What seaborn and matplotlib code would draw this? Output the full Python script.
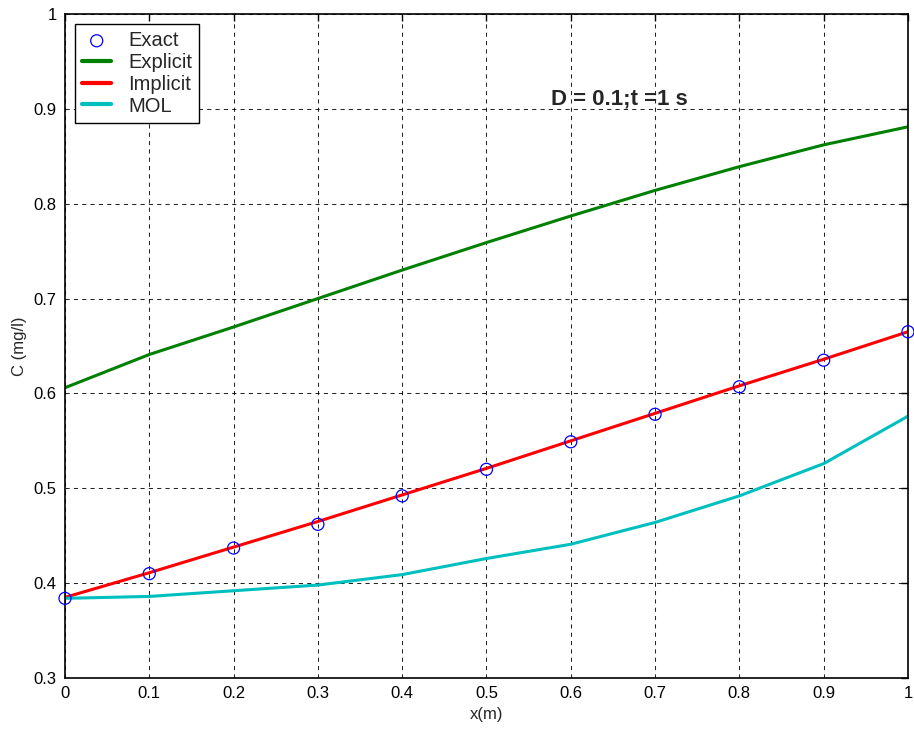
import numpy as np
import pandas as pd
import seaborn as sns
import matplotlib.pyplot as plt

# data
x = [0, 0.1, 0.2, 0.3, 0.4, 0.5, 0.6, 0.7, 0.8, 0.9, 1.0]
exact = [0.384, 0.410, 0.437, 0.462, 0.492, 0.520, 0.549, 0.578, 0.607, 0.635, 0.665]
explicit = [0.606, 0.641, 0.670, 0.700, 0.730, 0.759, 0.787, 0.814, 0.839, 0.862, 0.881]
implicit = [0.385, 0.411, 0.438, 0.465, 0.493, 0.521, 0.550, 0.579, 0.608, 0.636, 0.665]
mol = [0.384, 0.386, 0.392, 0.398, 0.409, 0.426, 0.441, 0.464, 0.492, 0.526, 0.576]
xticklabels = ['0', '0.1', '0.2', '0.3', '0.4', '0.5', '0.6', '0.7', '0.8', '0.9', '1']
yticklabels = ['0.3', '0.4', '0.5', '0.6', '0.7', '0.8', '0.9', '1']

sns.set_style('white')
plt.rcParams['font.family'] = ['Liberation Sans', 'DejaVu Sans']

fig = plt.figure(figsize=(9.14, 7.33), dpi=100)
ax = fig.add_axes([0.0711, 0.075, 0.9223, 0.906])

df = pd.DataFrame({'x': x, 'Exact': exact, 'Explicit': explicit,
                   'Implicit': implicit, 'MOL': mol})

sns.scatterplot(data=df, x='x', y='Exact', ax=ax, marker='o', s=75,
                facecolor='none', edgecolor='blue', linewidth=0.9,
                label='Exact', zorder=5, clip_on=False)
sns.lineplot(data=df, x='x', y='Explicit', ax=ax, color='#008000', lw=2.2, label='Explicit')
sns.lineplot(data=df, x='x', y='Implicit', ax=ax, color='red', lw=2.2, label='Implicit')
sns.lineplot(data=df, x='x', y='MOL', ax=ax, color='#00BFBF', lw=2.2, label='MOL')

ax.set_xlim(0, 1)
ax.set_ylim(0.3, 1.0)
ax.set_xticks(x)
ax.set_xticklabels(xticklabels)
ax.set_yticks(np.arange(0.3, 1.01, 0.1))
ax.set_yticklabels(yticklabels)
ax.tick_params(direction='in', length=5, width=1, top=True, right=True,
               labelsize=12, colors='black', pad=6)
ax.grid(True, color='black', linestyle=(0, (4, 4)), linewidth=0.75, alpha=0.85)
for s in ax.spines.values():
    s.set_color('black')
    s.set_linewidth(1.2)

ax.set_xlabel('x(m)', fontsize=12, labelpad=4)
ax.set_ylabel('C (mg/l)', fontsize=12, labelpad=5)

ax.text(0.577, 0.905, 'D = 0.1;t =1 s', fontsize=16, fontweight='bold', ha='left', va='baseline')

leg = ax.legend(loc='upper left', fontsize=14.5, frameon=True, fancybox=False,
                edgecolor='black', framealpha=1, borderpad=0.35, labelspacing=0.14,
                handlelength=1.45, handletextpad=0.85, borderaxespad=0.5)
leg.get_frame().set_linewidth(1.0)
for h in leg.get_lines():
    h.set_linewidth(3)

fig.savefig('out.png', dpi=100)
